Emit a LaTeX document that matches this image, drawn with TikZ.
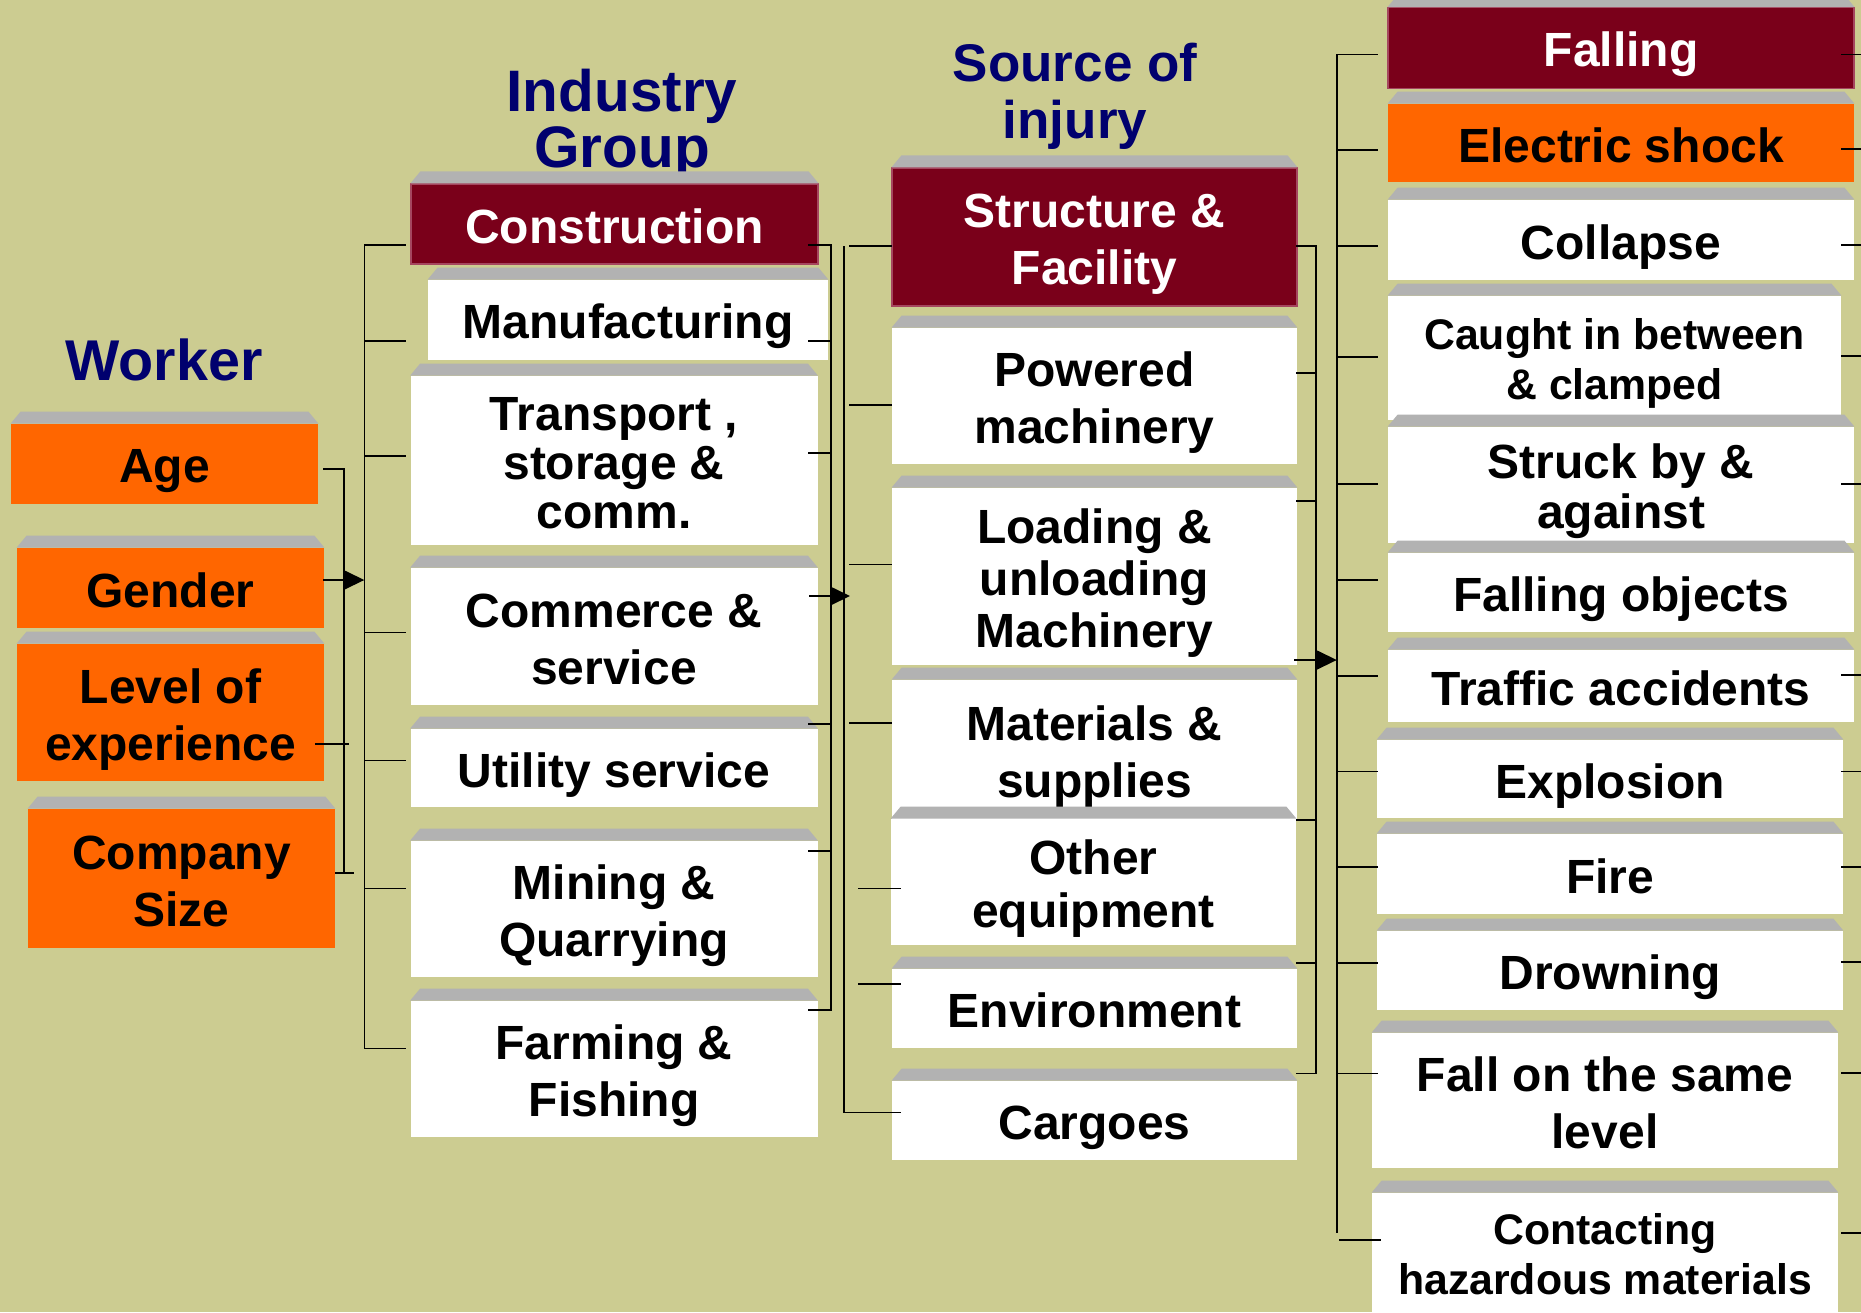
\documentclass[tikz,border=0pt]{standalone}
\usepackage{fontspec}
\setmainfont{Liberation Sans}
\usetikzlibrary{arrows.meta, calc}

\definecolor{slide}{RGB}{204,204,145}
\definecolor{wine}{RGB}{122,0,26}
\definecolor{wineedge}{RGB}{165,70,95}
\definecolor{hot}{RGB}{255,102,0}
\definecolor{bevelgray}{RGB}{178,178,178}
\definecolor{headblue}{RGB}{0,0,110}

% full-height strut for the first line of a multi-line box
\newcommand{\upstrut}{\rule{0pt}{1em}}

\begin{document}
\begin{tikzpicture}[
    x=0.5pt, y=-0.5pt,
    cell/.style={
        rectangle, fill=white, inner sep=0pt, align=center,
        font=\bfseries\fontsize{24}{28.5}\selectfont,
        execute at begin node={\rule{0pt}{1em}},
        execute at end node={\rule[-0.2em]{0pt}{0.2em}}
    },
    head/.style={cell, fill=wine, draw=wineedge, line width=0.6pt, text=white},
    hotbox/.style={cell, fill=hot},
    wcol/.style={minimum width=153.5pt},
    icol/.style={minimum width=203.5pt},
    scol/.style={minimum width=202.5pt},
    mcol/.style={minimum width=233pt},
    title/.style={text=headblue, align=center},
    link/.style={draw=black, line width=0.8pt, line cap=rect},
    feed/.style={link, line cap=butt, -{Triangle[length=10pt,width=9.5pt]}},
]

\path[use as bounding box, fill=slide] (0,0) rectangle (1861,1312);

% column titles
\node[title, anchor=base, font=\bfseries\fontsize{28.75}{34}\selectfont] (workertitle) at (164,380) {Worker};
\node[title, font=\bfseries\fontsize{29.25}{28}\selectfont] (industrytitle) at (622,124) {Industry\\Group};
\node[title, font=\bfseries\fontsize{26.5}{28.5}\selectfont] (sourcetitle) at (1075,96) {Source of\\injury};

% worker
\node[hotbox, wcol, minimum height=40pt] (age) at (164.5,464) {Age};
\node[hotbox, wcol, minimum height=40pt] (gender) at (170.5,588) {Gender};
\node[hotbox, wcol, minimum height=68.5pt] (level) at (170.5,712.5) {\upstrut Level of\\experience};
\node[hotbox, wcol, minimum height=69.5pt] (company) at (181.5,878.5) {\upstrut Company\\Size};

% industry group
\node[head, icol, minimum height=40pt] (construction) at (614.5,224) {Construction};
\node[cell, minimum width=200pt, minimum height=40pt] (manufacturing) at (628,320) {Manufacturing};
\node[cell, icol, minimum height=84.5pt, font=\bfseries\fontsize{24}{24.5}\selectfont] (transport) at (614,460.5) {\upstrut Transport ,\\storage \&\\comm.};
\node[cell, icol, minimum height=68.5pt] (commerce) at (614,636.5) {\upstrut Commerce \&\\service};
\node[cell, icol, minimum height=39pt] (utility) at (614,768) {Utility service};
\node[cell, icol, minimum height=68pt] (mining) at (614,909) {\upstrut Mining \&\\Quarrying};
\node[cell, icol, minimum height=68pt] (farming) at (614,1069) {\upstrut Farming \&\\Fishing};

% source of injury
\node[head, scol, minimum height=69pt] (structure) at (1094.5,237) {\upstrut Structure \&\\Facility};
\node[cell, scol, minimum height=68pt] (powered) at (1094.5,396) {\upstrut Powered\\machinery};
\node[cell, scol, minimum height=88.5pt, font=\bfseries\fontsize{24}{26}\selectfont] (loading) at (1094.5,576.5) {\upstrut Loading \&\\unloading\\Machinery};
\node[cell, scol, minimum height=69.5pt] (materials) at (1094.5,749.5) {\upstrut Materials \&\\supplies};
\node[cell, scol, minimum height=63pt, font=\bfseries\fontsize{24}{26.5}\selectfont] (other) at (1093.5,882) {\upstrut Other\\equipment};
\node[cell, scol, minimum height=39.5pt] (environment) at (1094.5,1008.5) {Environment};
\node[cell, scol, minimum height=39.5pt] (cargoes) at (1094.5,1120.5) {Cargoes};

% accident type
\node[head, mcol, minimum height=40.25pt] (falling) at (1621,48) {Falling};
\node[hotbox, mcol, minimum height=39pt] (electric) at (1621,143) {Electric shock};
\node[cell, mcol, minimum height=40pt] (collapse) at (1621,240) {Collapse};
\node[cell, minimum width=226.5pt, minimum height=62pt, font=\bfseries\fontsize{21.4}{25}\selectfont] (caught) at (1614.5,358) {\upstrut Caught in between\\\& clamped};
\node[cell, mcol, minimum height=58pt, font=\bfseries\fontsize{24}{25}\selectfont] (struck) at (1621,485) {\upstrut Struck by \&\\against};
\node[cell, mcol, minimum height=39.5pt] (fallobj) at (1621,592.5) {Falling objects};
\node[cell, mcol, minimum height=36pt] (traffic) at (1621,686) {Traffic accidents};
\node[cell, mcol, minimum height=39pt] (explosion) at (1610,779) {Explosion};
\node[cell, mcol, minimum height=40pt] (fire) at (1610,874) {Fire};
\node[cell, mcol, minimum height=39.5pt] (drowning) at (1610,970.5) {Drowning};
\node[cell, mcol, minimum height=67.5pt] (fallsame) at (1605,1100.5) {\upstrut Fall on the same\\level};
\node[cell, mcol, minimum height=59.5pt, font=\bfseries\fontsize{21.4}{25}\selectfont] (contact) at (1605,1252.5) {\upstrut Contacting\\hazardous materials};

% grey bevel on top of every box
\foreach \n in {age,gender,level,company,construction,manufacturing,transport,commerce,
                utility,mining,farming,structure,powered,loading,materials,other,environment,
                cargoes,falling,electric,collapse,caught,struck,fallobj,traffic,explosion,
                fire,drowning,fallsame,contact}
  \fill[bevelgray] (\n.north west) -- ($(\n.north west)+(10,-12)$)
      -- ($(\n.north east)+(-10,-12)$) -- (\n.north east) -- cycle;

% bus lines
\coordinate (wbus) at (344,0);
\coordinate (ibusl) at (364.3,0);
\coordinate (itiel) at (405,0);
\coordinate (itier) at (809,0);
\coordinate (ibusr) at (831,0);
\coordinate (sbusl) at (844,0);
\coordinate (stiel) at (850,0);
\coordinate (stend) at (891,0);
\coordinate (sout) at (1297,0);
\coordinate (sbusr) at (1315.7,0);
\coordinate (mbus) at (1336.8,0);
\coordinate (mtie) at (1377.5,0);
\coordinate (mstub) at (1842,0);
\coordinate (edge) at (1861,0);

% worker -> industry
\draw[link] ($(age.east)+(5,5)$) -| ($(company.center -| wbus)+(0,-5.8)$);
\draw[link] ($(level.east)+(-9,31.5)$) -- ($(level.center -| wbus)+(4,31.5)$);
\draw[link] ($(company.east)+(0,-5.8)$) -- ($(company.center -| wbus)+(8.7,-5.8)$);
\draw[feed] ($(gender.east)+(-1,-8)$) -- ($(gender.center -| ibusl)+(0,-8)$);

% industry, left side
\draw[link] ($(construction.center -| ibusl)+(0,21)$) -- ($(farming.center -| ibusl)+(0,-20.4)$);
\foreach \n/\dy in {construction/21, manufacturing/21, transport/-4.5, commerce/-4.2,
                    utility/-7.7, mining/-20.7, farming/-20.4}
  \draw[link] ($(\n.center -| ibusl)+(0,\dy)$) -- ($(\n.center -| itiel)+(0,\dy)$);

% industry, right side
\draw[link] ($(construction.center -| ibusr)+(0,21)$) -- ($(farming.center -| ibusr)+(0,-59)$);
\foreach \n/\dy in {construction/21, manufacturing/21, transport/-7.5,
                    utility/-44, mining/-58, farming/-59}
  \draw[link] ($(\n.center -| itier)+(0,\dy)$) -- ($(\n.center -| ibusr)+(0,\dy)$);
\draw[feed] ($(commerce.center -| itier)+(0,-40.5)$) -- ($(commerce.center -| stiel)+(0,-40.5)$);

% source, left side
\draw[link] ($(structure.center -| sbusl)+(0,10)$) -- ($(cargoes.center -| sbusl)+(0,-8)$)
    -- ($(cargoes.center -| stend)+(9,-8)$);
\foreach \n/\dy in {structure/9, powered/9, loading/-12, materials/-26.5}
  \draw[link] ($(\n.center -| stiel)+(0,\dy)$) -- ($(\n.center -| stend)+(0,\dy)$);
\foreach \n/\dy in {other/6.5, environment/-24.5}
  \draw[link] ($(\n.center -| stiel)+(9,\dy)$) -- ($(\n.center -| stend)+(9,\dy)$);

% source, right side
\draw[link] ($(structure.center -| sbusr)+(0,9)$) -- ($(cargoes.center -| sbusr)+(0,-47)$);
\foreach \n/\dy in {structure/9, powered/-23, loading/-75.5,
                    other/-62, environment/-45.5, cargoes/-47}
  \draw[link] ($(\n.center -| sout)+(0,\dy)$) -- ($(\n.center -| sbusr)+(0,\dy)$);
\draw[feed] ($(loading.center -| sout)+(-3,83.5)$) -- ($(loading.center -| mbus)+(0,83.5)$);

% accident type, left side
\draw[link] ($(falling.center -| mbus)+(0,6.3)$) -- ($(contact.center -| mbus)+(0,-19.9)$);
\foreach \n/\dy in {falling/6.3, electric/7, collapse/6, caught/-1, struck/-1,
                    fallobj/-12.5, traffic/-10.3, explosion/-7.4, fire/-7,
                    drowning/-7.5, fallsame/-27}
  \draw[link] ($(\n.center -| mbus)+(0,\dy)$) -- ($(\n.center -| mtie)+(0,\dy)$);
\draw[link] ($(contact.center -| mbus)+(3,-12.5)$) -- ($(contact.center -| mtie)+(2.5,-12.5)$);

% accident type, stubs running on to the right
\foreach \n/\dy in {falling/6.4, electric/6, collapse/5, caught/-2, struck/-1,
                    traffic/-11, explosion/-7.5, fire/-7, drowning/-8.5,
                    fallsame/-27.5, contact/-19.5}
  \draw[link] ($(\n.center -| mstub)+(0,\dy)$) -- ($(\n.center -| edge)+(0,\dy)$);

\end{tikzpicture}
\end{document}
